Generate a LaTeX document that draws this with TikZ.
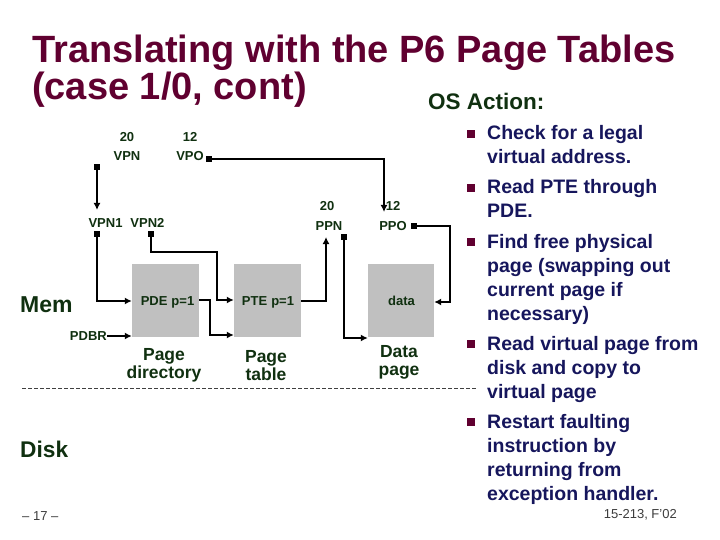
\documentclass[tikz,border=0pt]{standalone}
\usepackage{fontspec}
\setmainfont{Liberation Sans}
\usetikzlibrary{arrows.meta}
\definecolor{ttl}{RGB}{96,0,48}
\definecolor{dkg}{RGB}{16,48,16}
\definecolor{nav}{RGB}{22,22,92}
\definecolor{boxg}{RGB}{192,192,192}
\definecolor{ftr}{RGB}{60,60,60}
\begin{document}
\begin{tikzpicture}[x=1pt,y=-1pt,
  ttlstyle/.style={font=\fontsize{38}{40}\selectfont\bfseries,text=ttl,anchor=base west,inner sep=0},
  lab/.style={font=\fontsize{13}{13}\selectfont\bfseries,text=dkg,anchor=base,inner sep=0},
  boxtxt/.style={font=\fontsize{13}{13}\selectfont\bfseries,text=dkg,anchor=base,inner sep=0},
  big/.style={font=\fontsize{23}{23}\selectfont\bfseries,text=dkg,anchor=base west,inner sep=0},
  captxt/.style={font=\fontsize{17.5}{18}\selectfont\bfseries,text=dkg,anchor=base,inner sep=0},
  bul/.style={font=\fontsize{19.5}{20}\selectfont\bfseries,text=nav,anchor=base west,inner sep=0},
  bsq/.style={fill=ttl,draw=none,minimum size=8pt,inner sep=0},
  pbox/.style={fill=boxg,draw=none,minimum width=67pt,minimum height=73pt,inner sep=0},
  ftrtxt/.style={font=\fontsize{13}{13}\selectfont,text=ftr,inner sep=0},
  mk/.style={fill=black,draw=none,minimum width=6pt,minimum height=6.5pt,inner sep=0},
  conn/.style={line width=2.1pt,black},
  arr/.style={conn,-{Latex[length=7pt,width=7pt]}},
]
\useasboundingbox (0,0) rectangle (720,540);

% title
\node[ttlstyle] (t1) at (32,63) {Translating with the P6 Page Tables};
\node[ttlstyle] (t2) at (32,100) {(case 1/0, cont)};
\node[font=\fontsize{22.5}{22}\selectfont\bfseries,text=dkg,anchor=base west,inner sep=0] (osa) at (428,110) {OS Action:};

% virtual address labels
\node[lab] (n20a) at (127,142) {20};
\node[lab] (vpn) at (127,161) {VPN};
\node[lab] (n12a) at (190,142) {12};
\node[lab] (vpo) at (190,161) {VPO};
\node[lab] (vpn12) at (126.5,227) {VPN1\hspace{8pt}VPN2};

% physical address labels
\node[lab] (n20b) at (327,211) {20};
\node[lab] (ppn) at (329,230) {PPN};
\node[lab] (n12b) at (393,211) {12};
\node[lab] (ppo) at (393,230) {PPO};

% Mem / Disk
\node[big] (mem) at (20,312) {Mem};
\node[font=\fontsize{22.7}{23}\selectfont\bfseries,text=dkg,anchor=base west,inner sep=0] (disk) at (20,457) {Disk};

% boxes
\node[pbox] (pd) at (165.5,300.5) {};
\node[pbox] (pt) at (267.5,300.5) {};
\node[pbox,minimum width=66pt] (dp) at (401,300.5) {};
\node[boxtxt] (pde) at (167.5,305) {PDE\hspace{4pt}p=1};
\node[boxtxt] (pte) at (268,305) {PTE\hspace{4pt}p=1};
\node[boxtxt] (data) at (401.5,305) {data};
\node[boxtxt,anchor=base east] (pdbr) at (107,340) {PDBR};

\node[captxt] (pdl1) at (164,360) {Page};
\node[captxt] (pdl2) at (164,378) {directory};
\node[captxt] (ptl1) at (266,362) {Page};
\node[captxt] (ptl2) at (266,380) {table};
\node[captxt] (dpl1) at (399,357) {Data};
\node[captxt] (dpl2) at (399,375) {page};

% markers
\node[mk] (vpnm) at (97,167) {};
\node[mk] (vpom) at (209,159) {};
\node[mk] (v1m) at (97,234) {};
\node[mk] (v2m) at (151,234) {};
\node[mk] (ppnm) at (344,237) {};
\node[mk] (ppom) at (414,226) {};
\coordinate (vpnt) at (97,210);
\coordinate (ppot) at (384,212);
\coordinate (ppnt) at (326,237);

% connectors
\draw[arr] (vpnm.center) -- (vpnt);
\draw[arr] (vpom.center) -| (ppot);
\draw[arr] (v1m.center) |- (pd.west |- 0,301);
\draw[arr] (v2m.center) -- (151,252) -- (217,252) |- (pt.west |- 0,300);
\draw[arr] (pdbr.east |- 0,336) -- (pd.west |- 0,336);
\draw[arr] (pd.east |- 0,300) -- (210,300) |- (pt.west |- 0,335);
\draw[arr] (pt.east |- 0,301) -| (ppnt);
\draw[arr] (ppnm.center) |- (dp.west |- 0,338);
\draw[arr] (ppom.center) -- (450,226) |- (dp.east |- 0,302);

% disk separator
\draw[dash pattern=on 4pt off 2pt,line width=0.8pt,black!75] (22,388) -- (476,388);

% bullets
\foreach \b in {140,194,248,350,428} {\node[bsq] at (471,\b-6) {};}
\node[bul] at (487,140) {Check for a legal};
\node[bul] at (487,164) {virtual address.};
\node[bul] at (487,194) {Read PTE through};
\node[bul] at (487,218) {PDE.};
\node[bul] at (487,248) {Find free physical};
\node[bul] at (487,272) {page (swapping out};
\node[bul] at (487,296) {current page if};
\node[bul] at (487,320) {necessary)};
\node[bul] at (487,350) {Read virtual page from};
\node[bul] at (487,374) {disk and copy to};
\node[bul] at (487,398) {virtual page};
\node[bul] at (487,428) {Restart faulting};
\node[bul] at (487,452) {instruction by};
\node[bul] at (487,476) {returning from};
\node[bul] at (487,500) {exception handler.};

% footer
\node[ftrtxt,anchor=base west] (pg) at (22,520) {– 17 –};
\node[ftrtxt,anchor=base east] (crs) at (677,518) {15-213, F'02};
\end{tikzpicture}
\end{document}
